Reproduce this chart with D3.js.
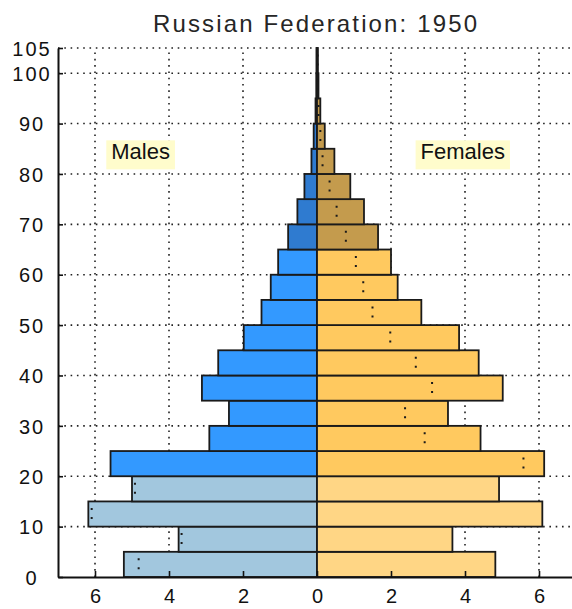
<!DOCTYPE html>
<html>
<head>
<meta charset="utf-8">
<script src="https://cdn.jsdelivr.net/npm/d3@7"></script>
<style>
  body { margin: 0; background: #fff; }
  svg { display: block; font-family: "Liberation Sans", Arial, sans-serif; }
</style>
</head>
<body>
<svg width="572" height="609"></svg>
<script>
// Population 1950, per cent of total, by 5-year age group
var ageStart = [0, 5, 10, 15, 20, 25, 30, 35, 40, 45, 50, 55, 60, 65, 70, 75, 80, 85, 90, 95, 100];
var males   = [5.22, 3.74, 6.18, 5.0, 5.58, 2.91, 2.38, 3.11, 2.67, 1.98, 1.50, 1.25, 1.05, 0.78, 0.53, 0.34, 0.15, 0.09, 0.04, 0.02, 0.015];
var females = [4.82, 3.66, 6.09, 4.92, 6.14, 4.42, 3.54, 5.02, 4.37, 3.84, 2.82, 2.18, 2.00, 1.65, 1.27, 0.90, 0.47, 0.21, 0.09, 0.04, 0.025];
var xTicks = [-6, -4, -2, 0, 2, 4, 6];
var yTicks = [0, 10, 20, 30, 40, 50, 60, 70, 80, 90, 100, 105];
var title = "Russian Federation: 1950";

var svg = d3.select("svg");

var x = d3.scaleLinear().domain([-7, 7]).range([58, 576]);
var y = d3.scaleLinear().domain([0, 105]).range([577, 48]);

var rows = ageStart.map(function(a, i) { return {age: a, m: males[i], f: females[i]}; });

function colour(sex, age) {
  if (sex == "m") return age < 20 ? "#a2c7de" : (age < 65 ? "#3399ff" : "#2f7bd0");
  return age < 20 ? "#ffd685" : (age < 65 ? "#ffc95f" : "#c49b4d");
}

// dotted grid
var grid = svg.append("g")
  .attr("stroke", "#222")
  .attr("stroke-width", 1.6)
  .attr("stroke-dasharray", "1.6,4.7");

grid.selectAll("line.h")
  .data(yTicks.filter(function(d) { return d > 0; }))
  .enter().append("line")
   .attr("x1", x(-7)).attr("x2", x(7))
   .attr("y1", function(d) { return y(d); })
   .attr("y2", function(d) { return y(d); });

grid.selectAll("line.v")
  .data(xTicks.filter(function(d) { return d != 0; }))
  .enter().append("line")
   .attr("x1", function(d) { return x(d); })
   .attr("x2", function(d) { return x(d); })
   .attr("y1", y(0)).attr("y2", y(105));

// bars
var bars = svg.append("g")
  .attr("stroke", "#1a1a1a")
  .attr("stroke-width", 1.8);

bars.selectAll("rect.m")
  .data(rows)
  .enter().append("rect")
   .attr("x", function(d) { return x(-d.m); })
   .attr("y", function(d) { return y(d.age + 5); })
   .attr("width", function(d) { return x(0) - x(-d.m); })
   .attr("height", function(d) { return y(d.age) - y(d.age + 5); })
   .attr("fill", function(d) { return colour("m", d.age); });

bars.selectAll("rect.f")
  .data(rows)
  .enter().append("rect")
   .attr("x", x(0))
   .attr("y", function(d) { return y(d.age + 5); })
   .attr("width", function(d) { return x(d.f) - x(0); })
   .attr("height", function(d) { return y(d.age) - y(d.age + 5); })
   .attr("fill", function(d) { return colour("f", d.age); });

// dotted marks: the other sex's value, shown inside the longer bar
var marks = svg.append("g")
  .attr("stroke", "#1a1a1a")
  .attr("stroke-width", 2)
  .attr("stroke-dasharray", "2,7");

marks.selectAll("line")
  .data(rows)
  .enter().append("line")
   .attr("x1", function(d) { return d.f < d.m ? x(-d.f) : x(d.m); })
   .attr("x2", function(d) { return d.f < d.m ? x(-d.f) : x(d.m); })
   .attr("y1", function(d) { return y(d.age + 5) + 6.5; })
   .attr("y2", function(d) { return y(d.age + 5) + 18; });

// axes
var yAxis = svg.append("g")
  .attr("transform", "translate(" + x(-7) + ",0)")
  .call(d3.axisLeft(y).tickValues(yTicks).tickSize(-5).tickSizeOuter(0).tickPadding(0));

var xAxis = svg.append("g")
  .attr("transform", "translate(0," + y(0) + ")")
  .call(d3.axisBottom(x).tickValues(xTicks).tickSize(-6).tickSizeOuter(0)
    .tickFormat(function(d) { return Math.abs(d); }));

[yAxis, xAxis].forEach(function(a) {
  a.select(".domain").attr("stroke", "#111").attr("stroke-width", 2);
  a.selectAll(".tick line").attr("stroke", "#111").attr("stroke-width", 1.6);
  a.selectAll(".tick text")
   .attr("fill", "#111")
   .attr("font-family", "Liberation Sans, Arial, sans-serif")
   .attr("font-size", 20);
});

yAxis.selectAll(".tick text")
  .attr("x", 32 - x(-7))
  .attr("dy", "0.36em")
  .attr("text-anchor", "middle")
  .attr("letter-spacing", 2);

xAxis.selectAll(".tick text")
  .attr("y", 26)
  .attr("dy", 0);

// title
svg.append("text")
  .attr("x", 315)
  .attr("y", 32)
  .attr("text-anchor", "middle")
  .attr("font-size", 24)
  .attr("fill", "#262626")
  .attr("textLength", 324)
  .attr("lengthAdjust", "spacing")
  .text(title);

// labels
var labels = [{text: "Males", v: -5.56}, {text: "Females", v: 2.8}];
labels.forEach(function(l) {
  var g = svg.append("g");
  var box = g.append("rect").attr("fill", "#fffccc");
  var t = g.append("text")
    .attr("x", x(l.v))
    .attr("y", y(82.9))
    .attr("font-size", 22)
    .attr("fill", "#111")
    .text(l.text);
  var b = t.node().getBBox();
  box.attr("x", b.x - 5).attr("y", b.y + 1).attr("width", b.width + 10).attr("height", b.height + 4);
});
</script>
</body>
</html>
